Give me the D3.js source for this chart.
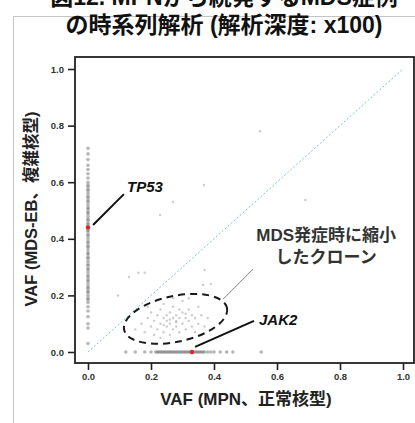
<!DOCTYPE html>
<html>
<head>
<meta charset="utf-8">
<script src="https://cdn.jsdelivr.net/npm/d3@7/dist/d3.min.js"></script>
<style>
  html, body { margin: 0; padding: 0; background: #fff; }
  svg { display: block; font-family: "Liberation Sans", "Noto Sans CJK JP", sans-serif; }
</style>
</head>
<body>
<svg id="chart" width="415" height="423"></svg>
<script>
// ---- data ----
const titleLines = ['図12. MPNから続発するMDS症例', 'の時系列解析 (解析深度: x100)'];
const xTitle = 'VAF (MPN、正常核型)';
const yTitle = 'VAF (MDS-EB、複雑核型)';
const tickValues = [0, 0.2, 0.4, 0.6, 0.8, 1.0];

// variants with VAF 0 in MPN (vertical strip at x = 0)
const stripMdsVaf = [
  0.72, 0.70, 0.68, 0.66, 0.645, 0.63, 0.615, 0.60,
  0.59, 0.585, 0.575, 0.57, 0.56, 0.55, 0.545, 0.535, 0.53, 0.52, 0.51, 0.505,
  0.495, 0.49, 0.48, 0.47, 0.465, 0.455, 0.45, 0.44, 0.43, 0.425, 0.415, 0.41,
  0.40, 0.39, 0.385, 0.375, 0.37, 0.36, 0.35, 0.345, 0.335, 0.33, 0.32, 0.31,
  0.305, 0.295, 0.29, 0.28, 0.27, 0.265, 0.255, 0.25, 0.24, 0.23, 0.225, 0.215,
  0.21, 0.20, 0.19, 0.185, 0.175,
  0.16, 0.145, 0.125, 0.10, 0.085, 0.03
];

// variants with VAF 0 in MDS (horizontal strip at y = 0)
const stripMpnVaf = [
  0.12, 0.15, 0.18, 0.20,
  0.215, 0.22, 0.225, 0.23, 0.235, 0.24, 0.245, 0.25, 0.255, 0.26, 0.265, 0.27,
  0.275, 0.28, 0.285, 0.29, 0.295, 0.30, 0.305, 0.31, 0.315, 0.32, 0.325, 0.335,
  0.34, 0.345, 0.35, 0.355, 0.36, 0.365, 0.37, 0.38, 0.39,
  0.40, 0.42, 0.44, 0.46, 0.55
];

// shrinking clone cluster [MPN VAF, MDS VAF]
const clusterPoints = [
  [0.15, 0.08], [0.17, 0.10], [0.18, 0.07], [0.19, 0.12], [0.20, 0.09], [0.20, 0.14],
  [0.21, 0.06], [0.21, 0.11], [0.22, 0.13], [0.22, 0.08], [0.23, 0.10], [0.23, 0.15],
  [0.24, 0.07], [0.24, 0.12], [0.24, 0.17], [0.25, 0.09], [0.25, 0.13], [0.25, 0.11],
  [0.26, 0.06], [0.26, 0.14], [0.26, 0.10], [0.27, 0.12], [0.27, 0.08], [0.27, 0.16],
  [0.28, 0.11], [0.28, 0.13], [0.28, 0.09], [0.29, 0.07], [0.29, 0.15], [0.29, 0.12],
  [0.30, 0.10], [0.30, 0.14], [0.30, 0.18], [0.31, 0.08], [0.31, 0.12], [0.32, 0.11],
  [0.32, 0.15], [0.33, 0.09], [0.33, 0.13], [0.34, 0.07], [0.34, 0.12], [0.35, 0.10],
  [0.35, 0.16], [0.36, 0.13], [0.37, 0.09], [0.38, 0.12], [0.36, 0.06], [0.23, 0.05],
  [0.19, 0.16], [0.27, 0.19], [0.32, 0.19], [0.26, 0.115], [0.28, 0.105], [0.24, 0.095],
  [0.31, 0.135]
];

// scattered variants
const otherPoints = [
  [0.546, 0.78], [0.368, 0.59], [0.27, 0.53], [0.229, 0.484], [0.69, 0.537],
  [0.095, 0.20], [0.13, 0.265], [0.16, 0.28], [0.18, 0.28], [0.37, 0.29],
  [0.365, 0.237], [0.39, 0.24]
];

// highlighted driver mutations
const drivers = [
  { name: 'TP53', mpn: 0, mds: 0.44, label: [0.124, 0.565], lead: [[0.016, 0.449], [0.114, 0.558]] },
  { name: 'JAK2', mpn: 0.33, mds: 0, label: [0.543, 0.095], lead: [[0.34, 0.018], [0.527, 0.11]] }
];

const cloneNote = ['MDS発症時に縮小', 'したクローン'];

// ---- drawing ----
const svg = d3.select('#chart');
const frame = { left: 75, right: 414, top: 57, bottom: 363 };

const x = d3.scaleLinear().domain([0, 1]).range([88, 403]);
const y = d3.scaleLinear().domain([0, 1]).range([352, 69]);

// slide frame
svg.append('path')
  .attr('d', 'M13.5,423 V16.5 H415')
  .attr('fill', 'none')
  .attr('stroke', '#c4c4c4')
  .attr('stroke-width', 1);

// title (first line is cut by the top edge)
svg.selectAll('text.title')
  .data(titleLines)
  .join('text')
  .attr('class', 'title')
  .attr('x', 224)
  .attr('y', (d, i) => 5 + i * 28)
  .attr('text-anchor', 'middle')
  .attr('font-size', 23)
  .attr('font-weight', 'bold')
  .attr('fill', '#111')
  .text(d => d);

// diagonal y = x
svg.append('line')
  .attr('x1', x(0)).attr('y1', y(0))
  .attr('x2', x(1)).attr('y2', y(1))
  .attr('stroke', '#7cc3d6')
  .attr('stroke-width', 1)
  .attr('stroke-dasharray', '2,2');

// gray points: the two strips are dense, the rest are faint
const stripPts = stripMdsVaf.map(v => [0, v]).concat(stripMpnVaf.map(v => [v, 0]));
const loosePts = clusterPoints.concat(otherPoints);

svg.append('g')
  .selectAll('circle')
  .data(loosePts)
  .join('circle')
  .attr('cx', d => x(d[0]))
  .attr('cy', d => y(d[1]))
  .attr('r', 1.2)
  .attr('fill', '#9a9a9a')
  .attr('fill-opacity', 0.5);

svg.append('g')
  .selectAll('circle')
  .data(stripPts)
  .join('circle')
  .attr('cx', d => x(d[0]))
  .attr('cy', d => y(d[1]))
  .attr('r', 1.8)
  .attr('fill', '#707070')
  .attr('fill-opacity', 0.5);

// dashed ellipse around the shrinking clones
const ell = { cx: 0.278, cy: 0.117, rx: 0.167, ry: 0.081, angle: -12 };
svg.append('ellipse')
  .attr('transform', `translate(${x(ell.cx)},${y(ell.cy)}) rotate(${ell.angle})`)
  .attr('rx', x(ell.rx) - x(0))
  .attr('ry', y(0) - y(ell.ry))
  .attr('fill', 'none')
  .attr('stroke', '#1a1a1a')
  .attr('stroke-width', 2)
  .attr('stroke-dasharray', '7,5');

// note leader + text
svg.append('line')
  .attr('x1', x(0.524)).attr('y1', y(0.293))
  .attr('x2', x(0.429)).attr('y2', y(0.187))
  .attr('stroke', '#888')
  .attr('stroke-width', 1);

svg.selectAll('text.note')
  .data(cloneNote)
  .join('text')
  .attr('class', 'note')
  .attr('x', x(0.756))
  .attr('y', (d, i) => y(0.392) + i * 22)
  .attr('text-anchor', 'middle')
  .attr('font-size', 17)
  .attr('font-weight', 'bold')
  .attr('fill', '#333')
  .text(d => d);

// driver leaders, labels and red points
svg.selectAll('line.lead')
  .data(drivers)
  .join('line')
  .attr('class', 'lead')
  .attr('x1', d => x(d.lead[0][0])).attr('y1', d => y(d.lead[0][1]))
  .attr('x2', d => x(d.lead[1][0])).attr('y2', d => y(d.lead[1][1]))
  .attr('stroke', '#111')
  .attr('stroke-width', 2);

svg.selectAll('text.driver')
  .data(drivers)
  .join('text')
  .attr('class', 'driver')
  .attr('x', d => x(d.label[0]))
  .attr('y', d => y(d.label[1]))
  .attr('font-size', 15)
  .attr('font-weight', 'bold')
  .attr('font-style', 'italic')
  .attr('fill', '#111')
  .text(d => d.name);

svg.selectAll('circle.driver')
  .data(drivers)
  .join('circle')
  .attr('class', 'driver')
  .attr('cx', d => x(d.mpn))
  .attr('cy', d => y(d.mds))
  .attr('r', 2.2)
  .attr('fill', '#e8202a');

// plot box
svg.append('rect')
  .attr('x', frame.left).attr('y', frame.top)
  .attr('width', frame.right - frame.left)
  .attr('height', frame.bottom - frame.top)
  .attr('fill', 'none')
  .attr('stroke', '#222')
  .attr('stroke-width', 1.8);

// axes
const xAxis = d3.axisBottom(x).tickValues(tickValues).tickSize(7).tickPadding(3)
  .tickFormat(d3.format('.1f'));
const yAxis = d3.axisLeft(y).tickValues(tickValues).tickSize(7).tickPadding(4)
  .tickFormat(d3.format('.1f'));

const gx = svg.append('g')
  .attr('transform', `translate(0,${frame.bottom})`)
  .call(xAxis);
const gy = svg.append('g')
  .attr('transform', `translate(${frame.left},0)`)
  .call(yAxis);

[gx, gy].forEach(g => {
  g.select('.domain').remove();
  g.selectAll('.tick line').attr('stroke', '#222').attr('stroke-width', 1.6);
  g.selectAll('.tick text')
    .attr('font-size', 9.5)
    .attr('font-weight', 'bold')
    .attr('fill', '#333')
    .attr('font-family', '"Liberation Sans", sans-serif');
});

// axis titles
svg.append('text')
  .attr('x', 246)
  .attr('y', 405)
  .attr('text-anchor', 'middle')
  .attr('font-size', 17)
  .attr('font-weight', 'bold')
  .attr('fill', '#222')
  .text(xTitle);

svg.append('text')
  .attr('transform', 'translate(37,209) rotate(-90)')
  .attr('text-anchor', 'middle')
  .attr('font-size', 16.5)
  .attr('font-weight', 'bold')
  .attr('fill', '#222')
  .text(yTitle);
</script>
</body>
</html>
